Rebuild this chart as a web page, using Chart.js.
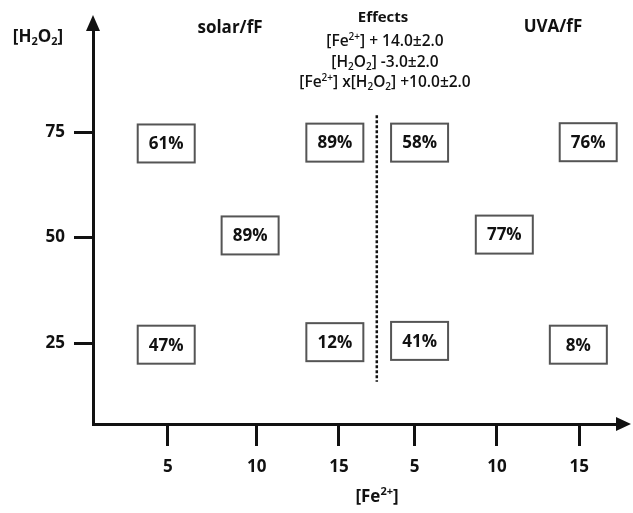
<!DOCTYPE html>
<html>
<head>
<meta charset="utf-8">
<script src="https://cdn.jsdelivr.net/npm/chart.js@4.4.1/dist/chart.umd.min.js"></script>
<style>
    html, body { margin: 0; padding: 0; background: #fff; }
    canvas { display: block; }
</style>
</head>
<body>
<canvas id="graficoEfeitos" width="633" height="513"></canvas>
<script>
/*
 * Dados (dois paineis: solar/fF e UVA/fF)
 * */
var xTickPos = [1, 2.08, 3.08, 4, 5, 6];
var xTickLabels = ['5', '10', '15', '5', '10', '15'];
var yTicks = [25, 50, 75];

// rendimento de cada ensaio e sua posicao no plano [Fe2+] x [H2O2]
var boxLabels = ['61%', '89%', '89%', '47%', '12%', '58%', '76%', '77%', '41%', '8%'];
var boxX = [0.98, 3.03, 2.0, 0.98, 3.03, 4.06, 6.11, 5.09, 4.06, 5.99];
var boxY = [72.3, 72.5, 50.5, 24.6, 25.2, 72.5, 72.6, 50.7, 25.5, 24.6];

// linha tracejada que separa os paineis
var dividerX = 3.54;
var dividerY = [79, 15.8];

var FONTE = "'Open Sans', 'DejaVu Sans', sans-serif";
var COR = '#111';

// texto com sobrescrito (1) e subscrito (-1)
var efeitosLinhas = [
    [['[Fe', 0], ['2+', 1], ['] + 14.0\u00b12.0', 0]],
    [['[H', 0], ['2', -1], ['O', 0], ['2', -1], ['] -3.0\u00b12.0', 0]],
    [['[Fe', 0], ['2+', 1], ['] x[H', 0], ['2', -1], ['O', 0], ['2', -1], ['] +10.0\u00b12.0', 0]]
];
var tituloX = [['[Fe', 0], ['2+', 1], [']', 0]];
var tituloY = [['[H', 0], ['2', -1], ['O', 0], ['2', -1], [']', 0]];

function drawRich(ctx, parts, cx, cy, size, weight) {
    var small = Math.round(size * 0.65);
    var total = 0;
    parts.forEach(function (p) {
        ctx.font = weight + ' ' + (p[1] ? small : size) + 'px ' + FONTE;
        total += ctx.measureText(p[0]).width;
    });
    var x = cx - total / 2;
    ctx.textAlign = 'left';
    ctx.textBaseline = 'middle';
    ctx.fillStyle = COR;
    parts.forEach(function (p) {
        ctx.font = weight + ' ' + (p[1] ? small : size) + 'px ' + FONTE;
        var dy = p[1] == 1 ? -size * 0.3 : (p[1] == -1 ? size * 0.3 : 0);
        ctx.fillText(p[0], x, cy + dy);
        x += ctx.measureText(p[0]).width;
    });
}

var pluginDesenho = {
    id: 'desenho',
    afterDraw: function (chart) {
        var ctx = chart.ctx;
        var area = chart.chartArea;
        var sx = chart.scales.x;
        var sy = chart.scales.y;
        ctx.save();

        // setas dos eixos
        ctx.fillStyle = COR;
        ctx.beginPath();
        ctx.moveTo(area.left, area.top - 15);
        ctx.lineTo(area.left - 7, area.top + 1);
        ctx.lineTo(area.left + 7, area.top + 1);
        ctx.closePath();
        ctx.fill();

        ctx.beginPath();
        ctx.moveTo(area.right + 14, area.bottom);
        ctx.lineTo(area.right - 1, area.bottom - 7);
        ctx.lineTo(area.right - 1, area.bottom + 7);
        ctx.closePath();
        ctx.fill();

        // divisoria tracejada
        var dx = sx.getPixelForValue(dividerX);
        ctx.strokeStyle = '#111';
        ctx.lineWidth = 2.5;
        ctx.setLineDash([3, 2]);
        ctx.beginPath();
        ctx.moveTo(dx, sy.getPixelForValue(dividerY[0]));
        ctx.lineTo(dx, sy.getPixelForValue(dividerY[1]));
        ctx.stroke();
        ctx.setLineDash([]);

        // caixas com os rendimentos
        var meta = chart.getDatasetMeta(0);
        meta.data.forEach(function (pt, i) {
            var w = 57, h = 38;
            ctx.fillStyle = '#fff';
            ctx.fillRect(pt.x - w / 2, pt.y - h / 2, w, h);
            ctx.strokeStyle = '#555';
            ctx.lineWidth = 2;
            ctx.strokeRect(pt.x - w / 2, pt.y - h / 2, w, h);
            ctx.fillStyle = COR;
            ctx.font = 'bold 17px ' + FONTE;
            ctx.textAlign = 'center';
            ctx.textBaseline = 'middle';
            ctx.fillText(boxLabels[i], pt.x, pt.y + 1);
        });

        // titulos
        drawRich(ctx, [['solar/fF', 0]], 230, 28, 17, 'bold');
        drawRich(ctx, [['UVA/fF', 0]], 553, 27, 17, 'bold');
        drawRich(ctx, [['Effects', 0]], 383, 18, 15, 'bold');
        efeitosLinhas.forEach(function (linha, i) {
            drawRich(ctx, linha, 385, 42 + i * 20.5, 15.5, '600');
        });
        drawRich(ctx, tituloX, 377, 497, 17, 'bold');
        drawRich(ctx, tituloY, 38, 37, 17, 'bold');

        ctx.restore();
    }
};

function montaPontos() {
    var pontos = [];
    for (var i = 0; i < boxLabels.length; i++) {
        pontos.push({x: boxX[i], y: boxY[i]});
    }
    return pontos;
}

var ctx = document.getElementById('graficoEfeitos').getContext('2d');

var chart = new Chart(ctx, {
    type: 'scatter',
    data: {
        datasets: [{
            data: montaPontos(),
            pointRadius: 0,
            pointHoverRadius: 0
        }]
    },
    options: {
        responsive: false,
        animation: false,
        layout: {padding: {top: 30, right: 16, left: 0, bottom: 0}},
        plugins: {legend: {display: false}, tooltip: {enabled: false}},
        scales: {
            x: {
                type: 'linear',
                min: 0.09,
                max: 6.46,
                afterFit: function (s) { s.height = 89; },
                afterBuildTicks: function (s) {
                    s.ticks = xTickPos.map(function (v) { return {value: v}; });
                },
                ticks: {
                    autoSkip: false,
                    maxRotation: 0,
                    padding: 11,
                    color: COR,
                    font: {family: FONTE, size: 17, weight: 'bold'},
                    callback: function (v, i) { return xTickLabels[i]; }
                },
                grid: {drawOnChartArea: false, drawTicks: true, tickLength: 22, tickWidth: 3, tickColor: COR},
                border: {display: true, color: COR, width: 3}
            },
            y: {
                type: 'linear',
                min: 5.8,
                max: 99.2,
                afterFit: function (s) { s.width = 93; },
                afterBuildTicks: function (s) {
                    s.ticks = yTicks.map(function (v) { return {value: v}; });
                },
                ticks: {
                    padding: 9,
                    color: COR,
                    font: {family: FONTE, size: 17, weight: 'bold'}
                },
                grid: {drawOnChartArea: false, drawTicks: true, tickLength: 19, tickWidth: 3, tickColor: COR},
                border: {display: true, color: COR, width: 3}
            }
        }
    },
    plugins: [pluginDesenho]
});
</script>
</body>
</html>
